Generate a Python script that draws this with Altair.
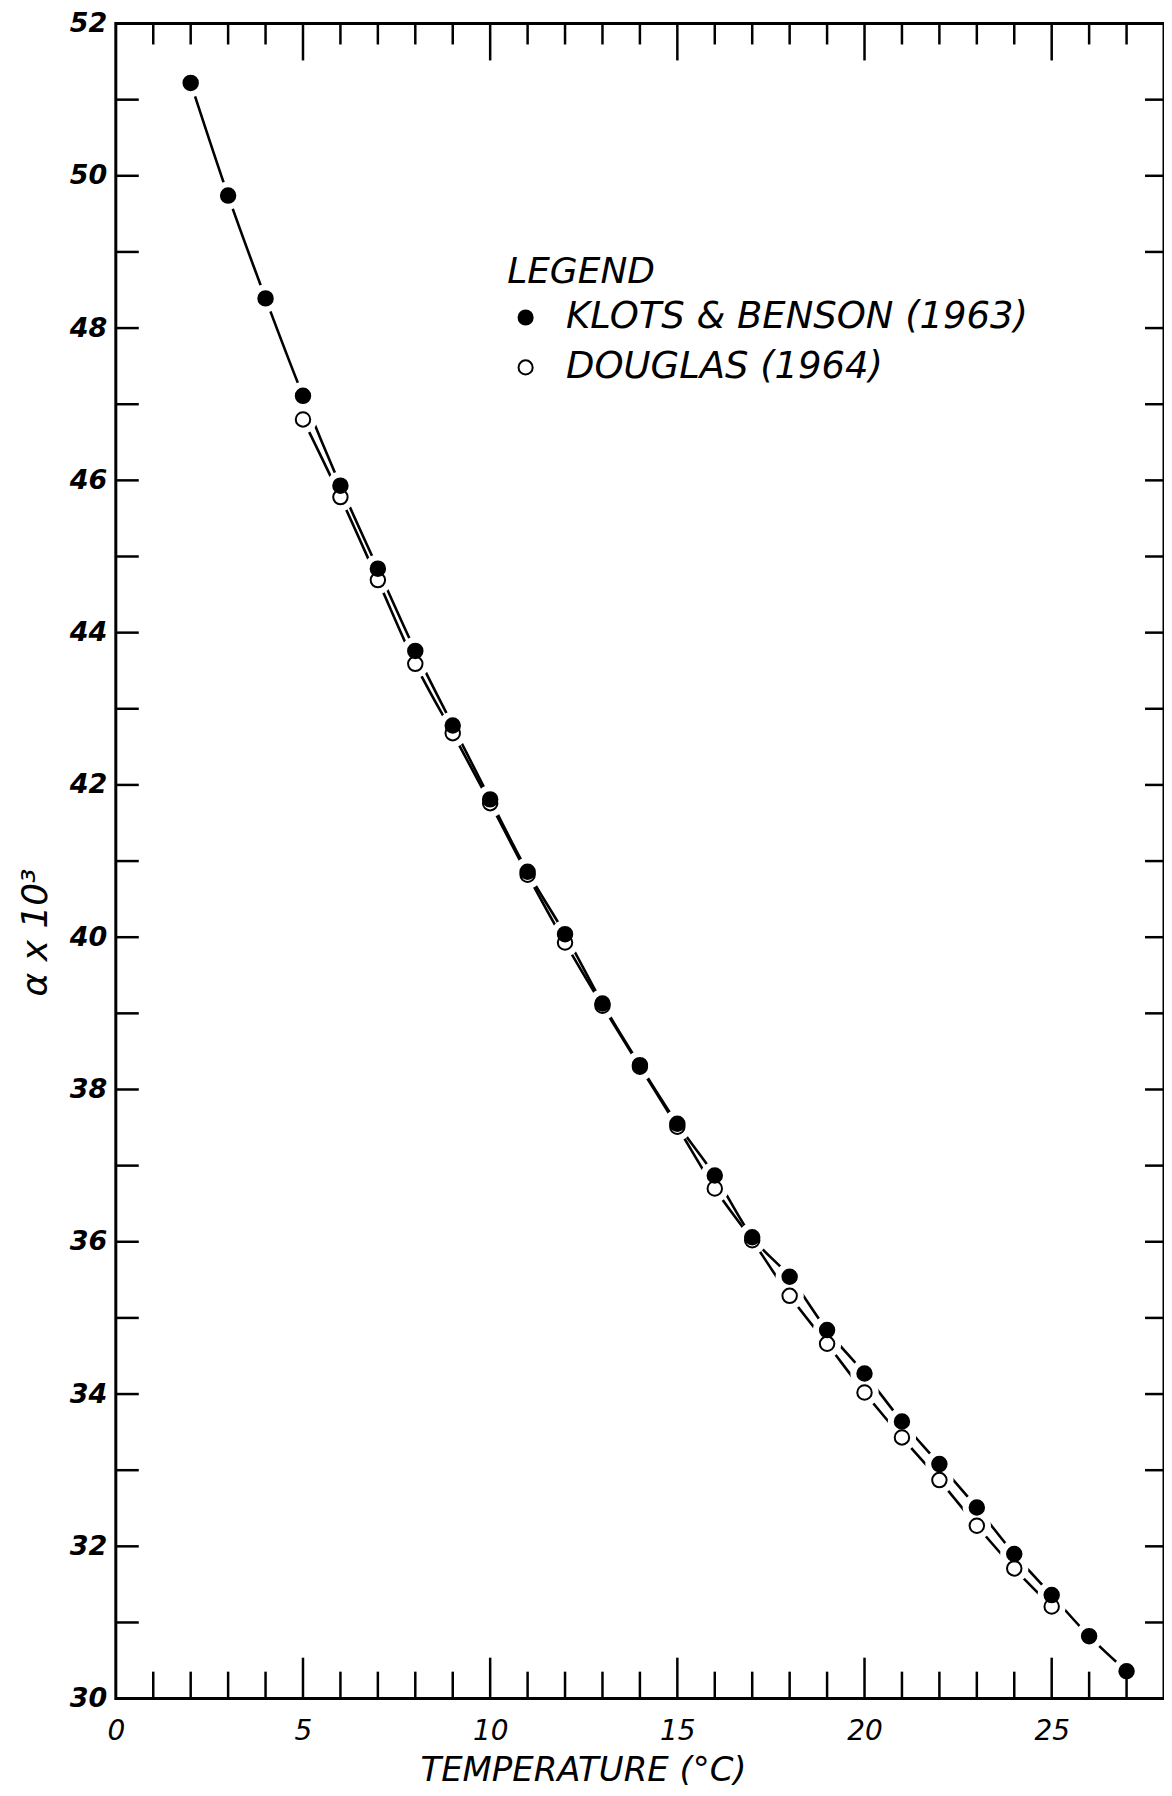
import altair as alt
import pandas as pd

# ---------------- data ----------------
KB = "KLOTS & BENSON (1963)"
DG = "DOUGLAS (1964)"

kb_temp = list(range(2, 28))
kb_alpha = [51.22, 49.74, 48.39, 47.11, 45.93, 44.84, 43.76, 42.78, 41.81, 40.86,
            40.04, 39.13, 38.32, 37.55, 36.87, 36.06, 35.54, 34.84, 34.27, 33.64,
            33.08, 32.51, 31.90, 31.36, 30.82, 30.36]

dg_temp = list(range(5, 26))
dg_alpha = [46.80, 45.78, 44.69, 43.59, 42.68, 41.76, 40.82, 39.93, 39.10, 38.30,
            37.51, 36.70, 36.02, 35.29, 34.66, 34.02, 33.43, 32.87, 32.27, 31.71,
            31.21]

x_tick_labels = [0, 5, 10, 15, 20, 25]
y_tick_labels = [30, 32, 34, 36, 38, 40, 42, 44, 46, 48, 50, 52]
x_major_ticks = [5, 10, 15, 20, 25]
x_minor_ticks = [1, 2, 3, 4, 6, 7, 8, 9, 11, 12, 13, 14, 16, 17, 18, 19,
                 21, 22, 23, 24, 26, 27]
y_ticks = [31, 32, 33, 34, 35, 36, 37, 38, 39, 40, 41, 42, 43, 44, 45, 46,
           47, 48, 49, 50, 51]

# ---------------- build tables ----------------
pts = pd.DataFrame({
    "T": dg_temp + kb_temp,
    "a": dg_alpha + kb_alpha,
    "series": [DG] * len(dg_temp) + [KB] * len(kb_temp),
    "ord": [0] * len(dg_temp) + [1] * len(kb_temp),
})
xmaj = pd.DataFrame({"T": x_major_ticks})
xmin = pd.DataFrame({"T": x_minor_ticks})
yt = pd.DataFrame({"a": y_ticks})

W, H = 1050, 1678
FONT = "DejaVu Sans"

x_scale = alt.Scale(domain=[0, 28], nice=False, zero=False)
y_scale = alt.Scale(domain=[30, 52], nice=False, zero=False)

x_axis = alt.Axis(
    values=x_tick_labels, ticks=False, domain=False, grid=False,
    labelFont=FONT, labelFontSize=28, labelFontStyle="italic", labelColor="black",
    labelPadding=19, labelFlush=False, labelOverlap=False,
    title="TEMPERATURE (°C)", titleFont=FONT, titleFontSize=34,
    titleFontStyle="italic", titleFontWeight="normal", titleColor="black",
    titleX=468, titleY=72, titleAlign="center", titleBaseline="middle",
)
y_axis = alt.Axis(
    values=y_tick_labels, ticks=False, domain=False, grid=False,
    labelFont=FONT, labelFontSize=27, labelFontStyle="italic", labelFontWeight="bold",
    labelColor="black", labelPadding=9, labelFlush=False, labelOverlap=False,
    title="α x 10³", titleFont=FONT, titleFontSize=36,
    titleFontStyle="italic", titleFontWeight="normal", titleColor="black",
    titleX=-80, titleY=910, titleAngle=270, titleAlign="center", titleBaseline="middle",
)

X = alt.X("T:Q", scale=x_scale, axis=x_axis)
Y = alt.Y("a:Q", scale=y_scale, axis=y_axis)

lines = alt.Chart(pts).mark_line(color="black", strokeWidth=2.6, interpolate="monotone").encode(
    x=X, y=Y, detail="series:N"
)

halos = alt.Chart(pts).mark_point(shape="circle", filled=True, color="white", size=800, opacity=1).encode(
    x=X, y=Y
)

rule_style = dict(color="black", strokeWidth=2.5)
bottom_major = alt.Chart(xmaj).mark_rule(**rule_style).encode(x=X, y=alt.value(H), y2=alt.value(H - 41))
bottom_minor = alt.Chart(xmin).mark_rule(**rule_style).encode(x=X, y=alt.value(H), y2=alt.value(H - 27))
top_major = alt.Chart(xmaj).mark_rule(**rule_style).encode(x=X, y=alt.value(0), y2=alt.value(37))
top_minor = alt.Chart(xmin).mark_rule(**rule_style).encode(x=X, y=alt.value(0), y2=alt.value(21))
left_ticks = alt.Chart(yt).mark_rule(**rule_style).encode(y=Y, x=alt.value(0), x2=alt.value(23))
right_ticks = alt.Chart(yt).mark_rule(**rule_style).encode(y=Y, x=alt.value(W), x2=alt.value(W - 19))

markers = alt.Chart(pts).mark_point(
    shape="circle", filled=True, size=210, stroke="black", strokeWidth=2, opacity=1
).encode(
    x=X, y=Y,
    fill=alt.Fill(
        "series:N",
        scale=alt.Scale(domain=[KB, DG], range=["black", "white"]),
        legend=alt.Legend(
            title="LEGEND", orient="none", legendX=392, legendY=232,
            titleFont=FONT, titleFontSize=36, titleFontStyle="italic",
            titleFontWeight="normal", titleColor="black", titleAnchor="start",
            titlePadding=8, titleLimit=1000,
            labelFont=FONT, labelFontSize=37, labelFontStyle="italic",
            labelColor="black", labelLimit=1000, labelOffset=22,
            rowPadding=12, symbolType="circle", symbolSize=200,
            symbolStrokeColor="black", symbolStrokeWidth=2, symbolOpacity=1,
            padding=0,
        ),
    ),
    order=alt.Order("ord:Q"),
)

chart = alt.layer(
    lines, halos, bottom_major, bottom_minor, top_major, top_minor,
    left_ticks, right_ticks, markers
).properties(
    width=W, height=H,
    autosize=alt.AutoSizeParams(type="none"),
    padding={"left": 108, "top": 14, "right": 0, "bottom": 88},
    background="white",
).configure_view(
    stroke="black", strokeWidth=3
)

chart.save("out.html", embed_options={"renderer": "svg", "actions": False})
